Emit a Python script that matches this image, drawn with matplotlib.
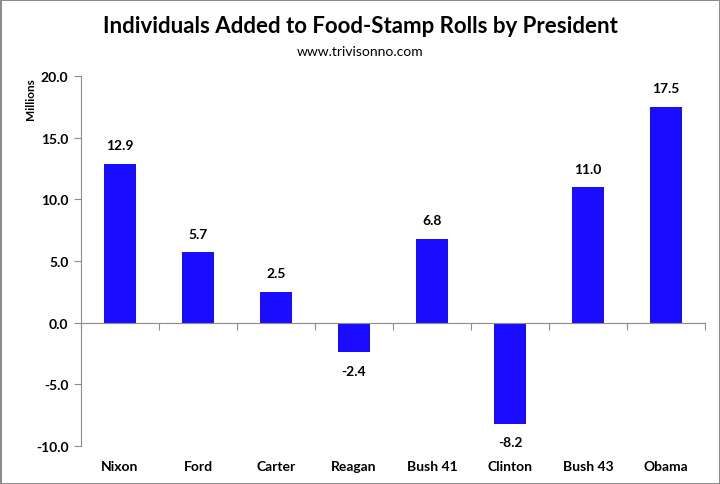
import matplotlib.pyplot as plt
import matplotlib.transforms as mtransforms

# data
presidents = ['Nixon', 'Ford', 'Carter', 'Reagan', 'Bush 41', 'Clinton', 'Bush 43', 'Obama']
added = [12.9, 5.7, 2.5, -2.4, 6.8, -8.2, 11.0, 17.5]
yticks = [-10, -5, 0, 5, 10, 15, 20]

plt.rcParams['font.family'] = ['Lato', 'DejaVu Sans']

fig = plt.figure(figsize=(7.2, 4.85), dpi=100, facecolor='white',
                 edgecolor='#8c8c8c', linewidth=2)
ax = fig.add_axes([0.1125, 0.0784, 0.8667, 0.7627])

x = list(range(len(presidents)))
ax.bar(x, added, width=0.4, color='#1a0dff', zorder=2)

ax.set_xlim(-0.5, len(presidents) - 0.5)
ax.set_ylim(-10, 20)
ax.set_yticks(yticks)
ax.set_yticklabels(['%.1f' % v for v in yticks], fontweight='bold', fontsize=10)
ax.tick_params(axis='y', direction='out', length=5, color='#8c8c8c', pad=4)

# category axis sits at zero
for s in ['top', 'right']:
    ax.spines[s].set_visible(False)
ax.spines['left'].set_color('#8c8c8c')
ax.spines['bottom'].set_color('#8c8c8c')
ax.spines['bottom'].set_position(('data', 0))
ax.set_xticks([i - 0.5 for i in range(len(presidents) + 1)])
ax.set_xticklabels([])
ax.tick_params(axis='x', direction='out', length=5, color='#8c8c8c')

# category names below the plot
trans = mtransforms.blended_transform_factory(ax.transData, ax.transAxes)
for i, name in enumerate(presidents):
    ax.text(i, -0.055, name, transform=trans, ha='center', va='center',
            fontweight='bold', fontsize=10)

# value labels
for i, v in enumerate(added):
    if v >= 0:
        ax.annotate('%.1f' % v, (i, v), xytext=(0, 9), textcoords='offset points',
                    ha='center', va='bottom', fontweight='bold', fontsize=10)
    else:
        ax.annotate('%.1f' % v, (i, v), xytext=(0, -9), textcoords='offset points',
                    ha='center', va='top', fontweight='bold', fontsize=10)

fig.text(0.042, 0.795, 'Millions', rotation=90, ha='center', va='center',
         fontweight='bold', fontsize=8.5)
fig.text(0.5, 0.945, 'Individuals Added to Food-Stamp Rolls by President',
         ha='center', va='center', fontweight='bold', fontsize=16)
fig.text(0.5, 0.893, 'www.trivisonno.com', ha='center', va='center', fontsize=10)

fig.savefig('out.png', dpi=100, facecolor='white', edgecolor='#8c8c8c')
